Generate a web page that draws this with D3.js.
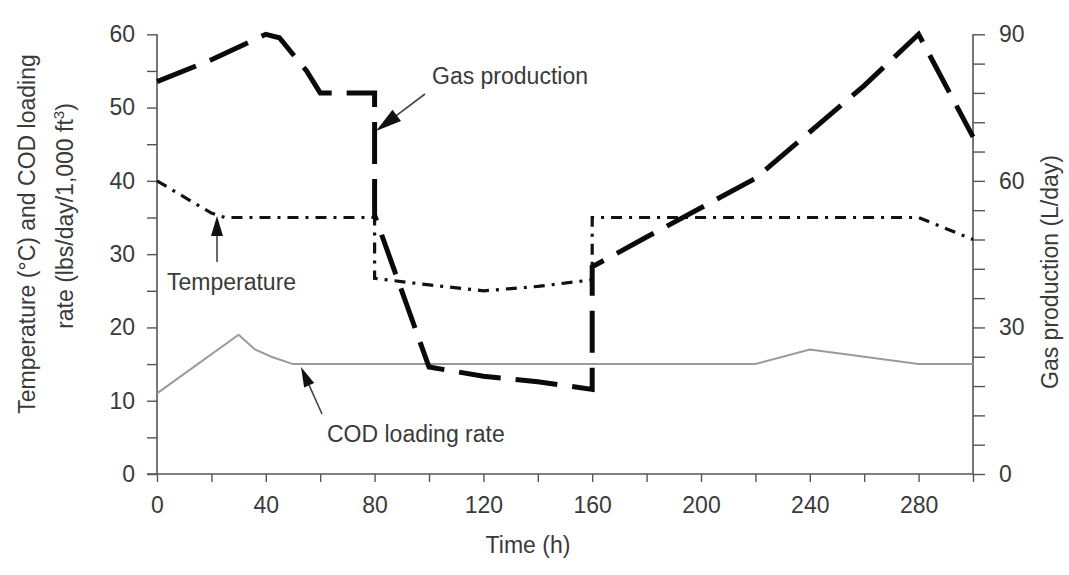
<!DOCTYPE html>
<html>
<head>
<meta charset="utf-8">
<script src="https://cdn.jsdelivr.net/npm/d3@7"></script>
<style>
  html, body { margin: 0; padding: 0; background: #fff; }
  svg { display: block; }
  text { font-family: "Liberation Sans", Arial, Helvetica, sans-serif; fill: #3a3a3a; }
</style>
</head>
<body>
<svg id="chart" width="1069" height="575"></svg>
<script>
// ---- data ----
const timeTicks = [0, 40, 80, 120, 160, 200, 240, 280];
const leftTicks = [0, 10, 20, 30, 40, 50, 60];
const rightTicks = [0, 30, 60, 90];

const gasTime  = [0, 20, 40, 45, 55, 60, 80, 80, 100, 120, 140, 160, 160, 180, 200, 220, 240, 260, 280, 300];
const gasValue = [80.3, 84.8, 90, 89.3, 82.5, 78, 78, 53, 21.9, 20, 18.9, 17.3, 42.4, 48.5, 54.5, 60.5, 70, 79.5, 90, 69];

const tempTime  = [0, 20, 25, 80, 80, 100, 120, 140, 160, 160, 280, 300];
const tempValue = [40, 35.6, 35, 35, 26.7, 25.8, 25, 25.6, 26.5, 35, 35, 32];

const codTime  = [0, 30, 36, 42, 50, 220, 240, 260, 280, 300];
const codValue = [11, 19, 17, 16, 15, 15, 17, 16, 15, 15];

// ---- setup ----
const svg = d3.select("#chart");
const x = d3.scaleLinear().domain([0, 300]).range([157, 973]);
const yL = d3.scaleLinear().domain([0, 60]).range([474, 34.3]);
const yR = d3.scaleLinear().domain([0, 90]).range([474, 34.3]);

const axisColor = "#555";
const fs = 23;

// x axis
const gx = svg.append("g").attr("transform", "translate(0,474)")
  .call(d3.axisBottom(x).tickValues(d3.range(0, 301, 20)).tickSize(8).tickFormat(d => timeTicks.includes(d) ? d : ""));
gx.select(".domain").attr("stroke", axisColor).attr("stroke-width", 1.6).attr("d", "M147,0H973");
gx.selectAll(".tick line").attr("stroke", axisColor).attr("stroke-width", 1.4);
gx.selectAll(".tick text").attr("font-size", fs).attr("dy", "1.2em").style("fill", "#3a3a3a");

// left axis
const gl = svg.append("g").attr("transform", "translate(157,0)")
  .call(d3.axisLeft(yL).tickValues(d3.range(0, 61, 5)).tickSize(10).tickPadding(12)
    .tickFormat(d => leftTicks.includes(d) ? d : ""));
gl.select(".domain").attr("stroke", axisColor).attr("stroke-width", 1.6).attr("d", "M0,34.3V474");
gl.selectAll(".tick line").attr("stroke", axisColor).attr("stroke-width", 1.4);
gl.selectAll(".tick text").attr("font-size", fs).style("fill", "#3a3a3a");

// right axis
const gr = svg.append("g").attr("transform", "translate(973,0)")
  .call(d3.axisRight(yR).tickValues(d3.range(0, 91, 6)).tickSize(12).tickPadding(14)
    .tickFormat(d => rightTicks.includes(d) ? d : ""));
gr.select(".domain").attr("stroke", axisColor).attr("stroke-width", 1.6).attr("d", "M0,34.3V474");
gr.selectAll(".tick line").attr("stroke", axisColor).attr("stroke-width", 1.4);
gr.selectAll(".tick text").attr("font-size", fs).style("fill", "#3a3a3a");

// ---- lines ----
const lineL = d3.line().x(d => x(d[0])).y(d => yL(d[1]));
const lineR = d3.line().x(d => x(d[0])).y(d => yR(d[1]));

svg.append("path")
  .datum(codTime.map((t, i) => [t, codValue[i]]))
  .attr("d", lineL).attr("fill", "none").attr("stroke", "#9a9a9a").attr("stroke-width", 2);

svg.append("path")
  .datum(tempTime.map((t, i) => [t, tempValue[i]]))
  .attr("d", lineL).attr("fill", "none").attr("stroke", "#111").attr("stroke-width", 3.2)
  .attr("stroke-dasharray", "11,7,3,7");

svg.append("path")
  .datum(gasTime.map((t, i) => [t, gasValue[i]]))
  .attr("d", lineR).attr("fill", "none").attr("stroke", "#0a0a0a").attr("stroke-width", 5)
  .attr("stroke-dasharray", "42,15").attr("stroke-linejoin", "miter");

// ---- annotations ----
function arrow(x1, y1, x2, y2, len, wid) {
  const ang = Math.atan2(y2 - y1, x2 - x1);
  svg.append("line").attr("x1", x1).attr("y1", y1)
    .attr("x2", x2 - Math.cos(ang) * len * 0.8).attr("y2", y2 - Math.sin(ang) * len * 0.8)
    .attr("stroke", "#444").attr("stroke-width", 1.6);
  const bx = x2 - Math.cos(ang) * len, by = y2 - Math.sin(ang) * len;
  const px = -Math.sin(ang) * wid / 2, py = Math.cos(ang) * wid / 2;
  svg.append("path").attr("d", `M${x2},${y2}L${bx + px},${by + py}L${bx - px},${by - py}Z`).attr("fill", "#111");
}

svg.append("text").attr("x", 432).attr("y", 84).attr("font-size", fs).text("Gas production");
arrow(425, 94, 376, 131, 26, 14);

svg.append("text").attr("x", 167).attr("y", 290).attr("font-size", fs).text("Temperature");
arrow(217, 262, 217, 216, 20, 12);

svg.append("text").attr("x", 327).attr("y", 442).attr("font-size", fs).text("COD loading rate");
arrow(322, 414, 301, 367, 20, 11);

// axis titles
svg.append("text").attr("x", 528).attr("y", 553)
  .attr("text-anchor", "middle").attr("font-size", fs).text("Time (h)");

svg.append("text").attr("transform", "translate(35,234) rotate(-90)")
  .attr("text-anchor", "middle").attr("font-size", fs)
  .text("Temperature (\u00B0C) and COD loading");
const t2 = svg.append("text").attr("transform", "translate(73,216) rotate(-90)")
  .attr("text-anchor", "middle").attr("font-size", fs);
t2.append("tspan").text("rate (lbs/day/1,000 ft");
t2.append("tspan").attr("dy", -9).attr("font-size", 15).text("3");
t2.append("tspan").attr("dy", 9).text(")");

svg.append("text").attr("transform", "translate(1058,272) rotate(-90)")
  .attr("text-anchor", "middle").attr("font-size", fs).text("Gas production (L/day)");
</script>
</body>
</html>
